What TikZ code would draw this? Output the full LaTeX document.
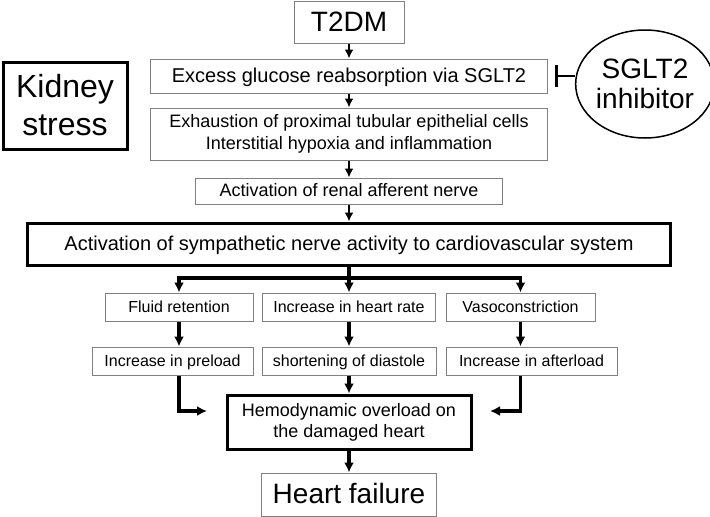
\documentclass[tikz,border=0pt]{standalone}
\usepackage{fontspec}
\setmainfont{Liberation Sans}
\usetikzlibrary{arrows.meta,shapes.geometric,shadows}
\definecolor{boxgray}{RGB}{128,128,128}
\newcommand{\fs}[2]{\fontsize{#1}{#2}\selectfont}
\tikzstyle{arrow} = [line width=2.4pt,-{Latex[length=9pt,width=9pt]}]
\tikzstyle{heavyarrow} = [line width=3.2pt,-{Latex[length=10pt,width=10pt]}]
\tikzstyle{heavyline} = [line width=3.2pt]
\tikzstyle{inhibit} = [line width=2.8pt,-{Bar[width=22pt,line width=2.8pt]}]
\tikzstyle{stepbox} = [rectangle, draw=boxgray, line width=1pt, fill=white, inner sep=0pt, align=center]
\tikzstyle{bigbox} = [rectangle, draw=black, line width=3pt, fill=white, inner sep=0pt, align=center]
% one-line text sizes
\tikzstyle{txtA} = [font=\fs{28}{32}, text height=20pt, text depth=2pt]
\tikzstyle{txtB} = [font=\fs{20}{24}, text height=14.4pt, text depth=1.5pt]
\tikzstyle{txtC} = [font=\fs{18}{22}, text height=13pt, text depth=1.3pt]
\tikzstyle{txtD} = [font=\fs{16}{20}, text height=11.5pt, text depth=1.2pt]

\begin{document}
\begin{tikzpicture}[x=1pt,y=-1pt]
\useasboundingbox (0,0) rectangle (710,517);
% main column
\node (t2dm) [stepbox, txtA, minimum width=110pt, minimum height=42pt] at (349,22) {T2DM};
\node (glucose) [stepbox, txtB, minimum width=397pt, minimum height=34pt] at (349,76) {Excess glucose reabsorption via SGLT2};
\node (exhaust) [stepbox, minimum width=397pt, minimum height=52pt, font=\fs{18}{22}] at (349,134) {Exhaustion of proximal tubular epithelial cells\\Interstitial hypoxia and inflammation};
\node (renal) [stepbox, txtC, minimum width=307pt, minimum height=26pt] at (349,191) {Activation of renal afferent nerve};
\node (symp) [bigbox, txtB, minimum width=643pt, minimum height=42pt] at (349,244) {Activation of sympathetic nerve activity to cardiovascular system};

% side labels
\node (kidney) [bigbox, minimum width=124pt, minimum height=87pt, font=\fs{32}{38}] at (65,105.5) {Kidney\\stress};
\node (sglt) [ellipse, draw=black, line width=1.5pt, minimum width=124pt, minimum height=108pt, inner sep=0pt, align=center, font=\fs{28}{30}] at (645,84) {SGLT2\\inhibitor};

% three branches
\coordinate (branch) at (349,278);
\node (fluid) [stepbox, txtD, minimum width=148pt, minimum height=28pt] at (179,307) {Fluid retention};
\node (hrate) [stepbox, txtD, minimum width=173pt, minimum height=28pt] at (349,307) {Increase in heart rate};
\node (vaso) [stepbox, txtD, minimum width=149pt, minimum height=28pt] at (520.5,307) {Vasoconstriction};
\node (preload) [stepbox, txtD, minimum width=161pt, minimum height=28pt] at (172.5,361) {Increase in preload};
\node (short) [stepbox, txtD, minimum width=174pt, minimum height=28pt, drop shadow={shadow xshift=1pt, shadow yshift=-1pt, opacity=0.35}] at (349,361) {shortening of diastole};
\node (after) [stepbox, txtD, minimum width=171pt, minimum height=28pt] at (531.5,361) {Increase in afterload};

\node (hemo) [bigbox, minimum width=244pt, minimum height=54pt, font=\fs{18}{21}] at (349,422) {Hemodynamic overload on\\the damaged heart};
\node (hf) [stepbox, txtA, minimum width=175pt, minimum height=43pt] at (349,494.5) {Heart failure};
\coordinate (lin) at (207,411);
\coordinate (rin) at (490,411);

% connectors
\draw[arrow] (t2dm) -- (glucose);
\draw[arrow] (glucose) -- (exhaust);
\draw[arrow] (exhaust) -- (renal);
\draw[arrow] (renal) -- (symp);
\draw[inhibit, shorten >=7pt] (glucose.east -| sglt.west) -- (glucose.east);

\draw[heavyline] (symp.south) -- (branch);
\draw[heavyarrow] (branch) -| (fluid.north);
\draw[heavyarrow] (branch) -- (hrate);
\draw[heavyarrow] (branch) -| (vaso.north);

\draw[heavyarrow] (fluid) -- (fluid |- preload.north);
\draw[heavyarrow] (hrate) -- (short);
\draw[heavyarrow] (vaso) -- (vaso |- after.north);

\draw[heavyarrow] (fluid |- preload.south) |- (lin);
\draw[heavyarrow] (vaso |- after.south) |- (rin);
\draw[heavyarrow] (short) -- (hemo);
\draw[heavyarrow] (hemo) -- (hf);
\end{tikzpicture}
\end{document}
